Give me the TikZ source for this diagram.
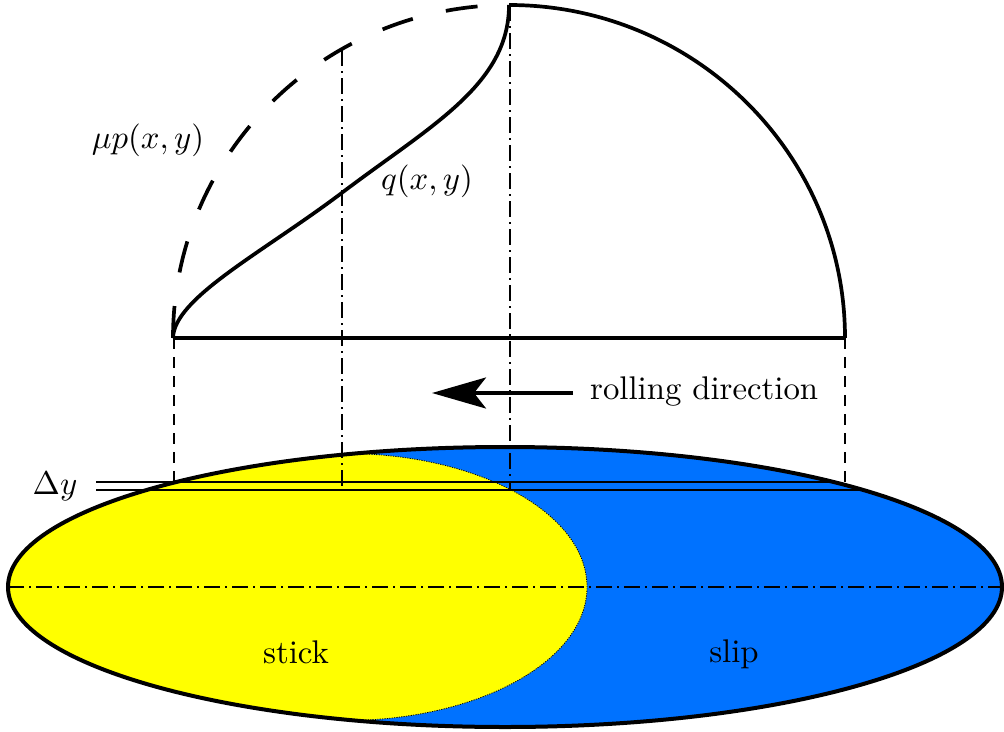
\documentclass[tikz,border=0pt]{standalone}
\usetikzlibrary{arrows.meta}
\definecolor{slipblue}{RGB}{0,114,255}
\definecolor{stickyellow}{RGB}{255,255,0}
\newcommand{\lbl}[1]{\scalebox{3.28}{#1}}
\begin{document}
\begin{tikzpicture}[x=1pt,y=1pt,
  thickline/.style={line width=3.7pt},
  axisline/.style={line width=1.5pt, dash pattern=on 16pt off 5pt on 2pt off 5pt},
  projline/.style={line width=1.2pt, dash pattern=on 11pt off 8pt},
  stripline/.style={line width=2pt},
  profdash/.style={line width=3.7pt, dash pattern=on 32pt off 34pt},
  lab/.style={inner sep=0pt}]
\useasboundingbox (0,0) rectangle (1004,-731);

% contact ellipse: slip (blue) and stick (yellow)
\fill[slipblue] (505,-587) ellipse [x radius=497, y radius=140];
\begin{scope}
  \clip (505,-587) ellipse [x radius=497, y radius=140];
  \fill[stickyellow] (345,-400) -- (345,-453.5)
    arc[start angle=90, end angle=-90, x radius=242, y radius=133.5]
    -- (345,-760) -- (0,-760) -- (0,-400) -- cycle;
  \draw[line width=0.8pt, dash pattern=on 1.2pt off 1.2pt] (345,-453.5)
    arc[start angle=90, end angle=-90, x radius=242, y radius=133.5];
\end{scope}
\draw[line width=4pt] (505,-587) ellipse [x radius=497, y radius=140];

% centre line of the contact ellipse
\coordinate (EL) at (8,-587);
\coordinate (ER) at (1002,-587);
\draw[axisline] (EL) -- (ER);

% strip Delta y
\coordinate (d1L) at (96,-482);
\coordinate (d1R) at (834,-482);
\coordinate (d2L) at (96,-490);
\coordinate (d2R) at (863,-490);
\draw[stripline] (d1L) -- (d1R);
\draw[stripline] (d2L) -- (d2R);
\node[lab, anchor=base] (dy) at (55,-494) {\lbl{$\Delta y$}};

% traction profile
\coordinate (B0) at (173,-338);
\coordinate (B1) at (845,-338);
\coordinate (TOP) at (509,-5);
\coordinate (QM) at (341,-193.5);
\draw[profdash] (B0) arc[start angle=180, end angle=90, x radius=336, y radius=333];
\draw[thickline] (TOP) arc[start angle=90, end angle=0, x radius=336, y radius=333];
\draw[thickline] (B0) -- (B1);
\draw[thickline] (B0) .. controls (174,-298) and (262,-253) .. (QM)
  .. controls (430,-126) and (509,-85) .. (TOP);

% projection lines
\coordinate (P1t) at (174,-338);
\coordinate (P1b) at (174,-482);
\coordinate (P4t) at (845,-338);
\coordinate (P4b) at (845,-482);
\draw[projline] (P1t) -- (P1b);
\draw[projline] (P4t) -- (P4b);
\coordinate (P2t) at (342,-50);
\coordinate (P2b) at (342,-490);
\coordinate (P3t) at (510,-5);
\coordinate (P3b) at (510,-490);
\draw[axisline] (P2t) -- (P2b);
\draw[axisline] (P3t) -- (P3b);

% labels
\node[lab, anchor=base] (mup) at (148,-148) {\lbl{$\mu p(x,y)$}};
\node[lab, anchor=base] (qlab) at (427,-189) {\lbl{$q(x,y)$}};
\node[lab, anchor=base] (stick) at (296,-663) {\lbl{stick}};
\node[lab, anchor=base] (slip) at (734,-662) {\lbl{slip}};

% rolling direction
\coordinate (arrS) at (573,-393);
\coordinate (arrE) at (432,-393);
\draw[line width=3.6pt, -{Stealth[length=54pt, width=31pt, inset=12pt]}] (arrS) -- (arrE);
\node[lab, anchor=base west] (roll) at (590,-399) {\lbl{rolling direction}};
\end{tikzpicture}
\end{document}
